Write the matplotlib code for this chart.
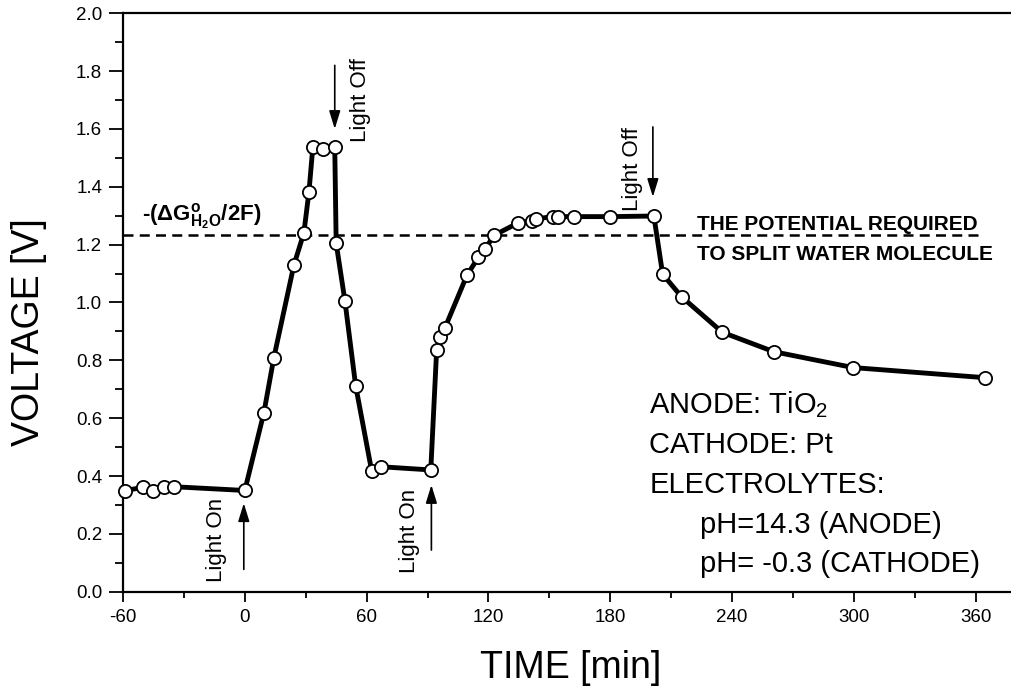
import numpy as np
import matplotlib.pyplot as plt
from matplotlib.ticker import MultipleLocator, FormatStrFormatter

plt.rcParams['font.family'] = ['Liberation Sans', 'DejaVu Sans']
plt.rcParams['axes.unicode_minus'] = False
plt.rcParams['mathtext.fontset'] = 'custom'
plt.rcParams['mathtext.rm'] = 'Liberation Sans'
plt.rcParams['mathtext.it'] = 'Liberation Sans:italic'
plt.rcParams['mathtext.bf'] = 'Liberation Sans:bold'

time_min = [-59.2, -50.2, -45.3, -40.0, -35.0, 0.0, 9.4, 14.3, 24.2, 29.1,
            31.6, 33.5, 38.6, 44.3, 45.0, 49.3, 54.6, 62.5, 67.2, 91.6,
            94.5, 96.3, 98.5, 109.4, 115.1, 118.4, 122.7, 134.8, 141.4, 143.4,
            151.6, 154.1, 162.3, 180.1, 201.5, 205.8, 215.1, 235.2, 260.5, 299.6,
            364.6]
voltage = [0.349, 0.361, 0.349, 0.361, 0.363, 0.350, 0.619, 0.809, 1.130, 1.241,
           1.383, 1.537, 1.531, 1.537, 1.205, 1.006, 0.712, 0.417, 0.432, 0.421,
           0.837, 0.882, 0.911, 1.094, 1.157, 1.185, 1.232, 1.276, 1.282, 1.289,
           1.297, 1.297, 1.297, 1.297, 1.299, 1.098, 1.020, 0.897, 0.830, 0.775,
           0.740]

split_potential = 1.235

# light switching events: (time, label, arrow start, arrow end)
light_events = [
    (44.3, 'Light Off', 1.82, 1.60),
    (201.0, 'Light Off', 1.607, 1.365),
    (-0.5, 'Light On', 0.077, 0.306),
    (91.9, 'Light On', 0.144, 0.369),
]

info_lines = ['ANODE: TiO$_2$', 'CATHODE: Pt', 'ELECTROLYTES:',
              'pH=14.3 (ANODE)', 'pH= -0.3 (CATHODE)']

fig = plt.figure(figsize=(10.12, 6.86), dpi=100)
ax = fig.add_axes([123 / 1012, 1 - 591.7 / 686, (1010 - 123) / 1012, (591.7 - 13.3) / 686])

ax.axhline(split_potential, xmax=(362.6 + 60) / (376.9 + 60), color='k', lw=1.8,
           linestyle=(0, (4, 2.5)), zorder=2)

ax.plot(time_min, voltage, color='k', lw=3.5, marker='o', ms=9.5,
        mfc='white', mec='k', mew=1.3, zorder=4, clip_on=False)

ax.set_xlim(-60, 376.9)
ax.set_ylim(0, 2.0)

ax.xaxis.set_major_locator(MultipleLocator(60))
ax.xaxis.set_minor_locator(MultipleLocator(30))
ax.yaxis.set_major_locator(MultipleLocator(0.2))
ax.yaxis.set_minor_locator(MultipleLocator(0.1))
ax.yaxis.set_major_formatter(FormatStrFormatter('%.1f'))

ax.tick_params(axis='both', which='both', direction='out', width=1.3, labelsize=13.5)
ax.tick_params(axis='x', which='major', length=7.5, pad=5)
ax.tick_params(axis='x', which='minor', length=4.5)
ax.tick_params(axis='y', which='major', length=10, pad=5)
ax.tick_params(axis='y', which='minor', length=6)
ax.spines['right'].set_visible(False)
for s in ['left', 'bottom', 'top']:
    ax.spines[s].set_linewidth(1.6)

fig.text(29 / 1012, 1 - 332 / 686, 'VOLTAGE [V]', rotation=90,
         ha='center', va='center', fontsize=27)
fig.text(571 / 1012, 1 - 678 / 686, 'TIME [min]', ha='center',
         va='baseline', fontsize=27)

# light on / off arrows and labels
for t, label, y0, y1 in light_events:
    ax.annotate('', xy=(t, y1), xytext=(t, y0),
                arrowprops=dict(arrowstyle='-|>,head_length=0.55,head_width=0.17',
                                color='k', lw=1.2, mutation_scale=20,
                                shrinkA=0, shrinkB=0))
ax.text(57.2, 1.845, 'Light Off', rotation=90, ha='center', va='top', fontsize=16)
ax.text(190.9, 1.607, 'Light Off', rotation=90, ha='center', va='top', fontsize=16)
ax.text(-14.1, 0.034, 'Light On', rotation=90, ha='center', va='bottom', fontsize=16)
ax.text(80.9, 0.065, 'Light On', rotation=90, ha='center', va='bottom', fontsize=16)

ax.text(-50.7, 1.281, r'-($\mathbf{\Delta G^{o}_{H_{2}O}}$/2F)', fontsize=16,
        fontweight='bold', va='baseline')
ax.text(222.5, 1.251, 'THE POTENTIAL REQUIRED', fontsize=15, fontweight='bold',
        va='baseline')
ax.text(222.5, 1.147, 'TO SPLIT WATER MOLECULE', fontsize=15, fontweight='bold',
        va='baseline')

info_x = [199.3, 199.3, 199.3, 224.0, 224.0]
info_y = [0.618, 0.480, 0.341, 0.203, 0.069]
for x, y, s in zip(info_x, info_y, info_lines):
    ax.text(x, y, s, fontsize=21, va='baseline')

fig.savefig('out.png', dpi=100)
